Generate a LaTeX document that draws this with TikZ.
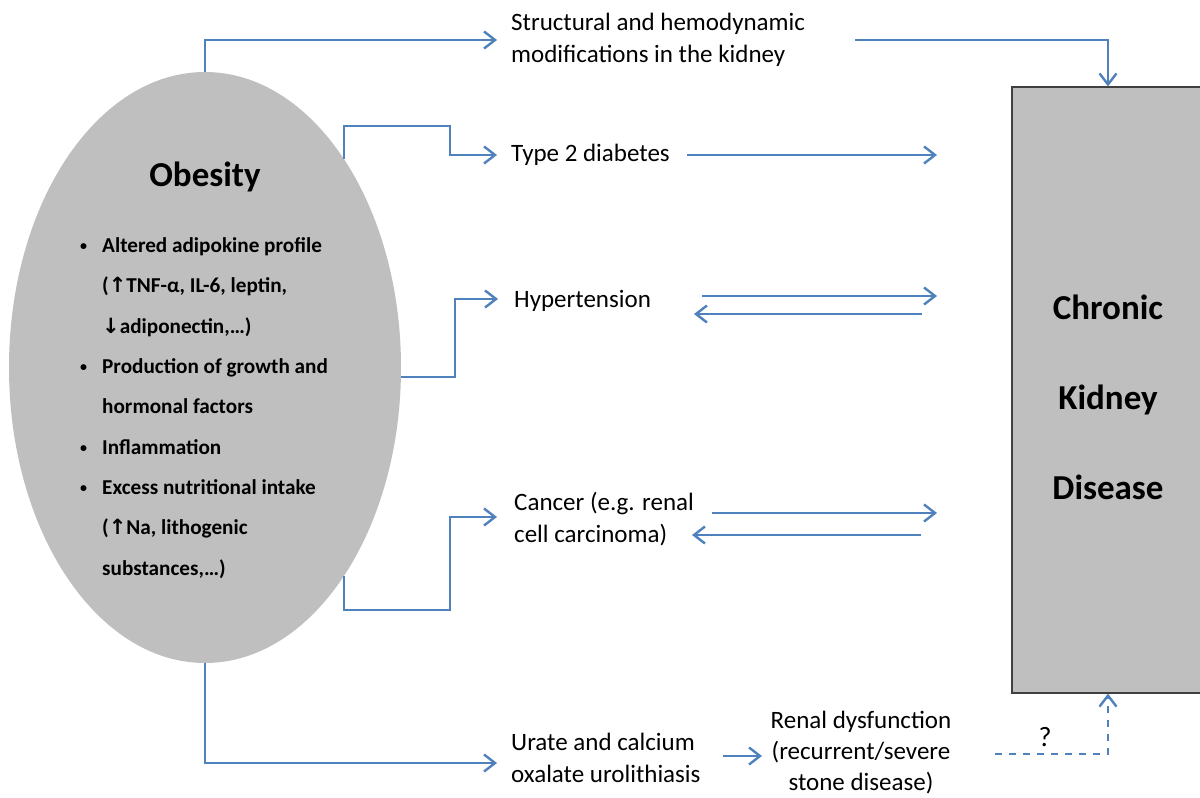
\documentclass[tikz,border=0pt]{standalone}
\usepackage{fontspec}
\setmainfont{Carlito}
\newfontfamily\dvfont{DejaVu Sans}
\usetikzlibrary{arrows.meta,shapes.geometric}
\definecolor{ablue}{HTML}{4F81BD}
\definecolor{agray}{HTML}{BFBFBF}
\newcommand{\bitem}{\makebox[22pt][l]{\fontsize{14}{14}\selectfont\raisebox{2pt}{•}}}
\newcommand{\bind}{\hspace*{22pt}}
\newcommand{\uparr}{{\dvfont\bfseries\fontsize{21}{21}\selectfont↑}}
\newcommand{\downarr}{{\dvfont\bfseries\fontsize{21}{21}\selectfont↓}}
\begin{document}
\begin{tikzpicture}[x=1pt,y=-1pt,
  conn/.style={draw=ablue,line width=2.4pt,-{Straight Barb[length=11pt,width=17pt]}},
  dconn/.style={conn,dash pattern=on 7pt off 7pt},
  lab/.style={font=\fontsize{25}{31.5}\selectfont,anchor=west,align=left,inner sep=0pt},
  bigbold/.style={font=\bfseries\fontsize{35}{90}\selectfont,align=center,inner sep=0pt},
  list/.style={font=\bfseries\fontsize{21.2}{40.3}\selectfont,anchor=west,align=left,inner sep=0pt}]
\useasboundingbox (0,0) rectangle (1200,798);
\fill[white] (0,0) rectangle (1200,798);

% main shapes
\node[ellipse,fill=agray,minimum width=392pt,minimum height=591pt,inner sep=0pt] (ob) at (205,367.5) {};
\node[bigbold] (obt) at (205,177) {Obesity};
\node[list] (oblist) at (80,408) {%
\bitem Altered adipokine profile\\
\bind(\uparr TNF-α, IL-6, leptin,\\
\bind\downarr adiponectin,…)\\
\bitem Production of growth and\\
\bind hormonal factors\\
\bitem Inflammation\\
\bitem Excess nutritional intake\\
\bind(\uparr Na, lithogenic\\
\bind substances,…)};

\node[draw=black!75,line width=1.2pt,fill=agray,minimum width=203pt,minimum height=606pt,inner sep=0pt] (ckd) at (1113.5,390) {};
\node[bigbold] (ckdt) at (1108,397) {Chronic\\Kidney\\Disease};

% labels
\node[lab] (struct) at (511,40) {Structural and hemodynamic\\modifications in the kidney};
\node[lab] (t2d) at (511,155) {Type 2 diabetes};
\node[lab] (hyp) at (514,301) {Hypertension};
\node[lab] (can) at (514,519) {Cancer (e.g. renal\\cell carcinoma)};
\node[lab] (uro) at (511,758) {Urate and calcium\\oxalate urolithiasis};
\node[lab,font=\fontsize{25}{31}\selectfont,anchor=center,align=center] (ren) at (861,753) {Renal dysfunction\\(recurrent/severe\\stone disease)};
\node[lab,font=\fontsize{28}{30}\selectfont,anchor=center] (q) at (1045,737) {?};

% coordinates
\coordinate (t2dstart) at (344,159);
\coordinate (hypstart) at (401,377);
\coordinate (canstart) at (344,576);
\coordinate (structout) at (855,40);
\coordinate (urorin) at (497,763);
\coordinate (ckdtop) at ([xshift=-5.5pt]ckd.north);
\coordinate (ckdbot) at ([xshift=-5.5pt]ckd.south);

% connectors
\draw[conn] (ob.north) |- ([xshift=-14pt]struct.west);
\draw[conn] (structout) -| (ckdtop);
\draw[conn] (t2dstart) -- (344,126) -- (450,126) -- (450,155) -- ([xshift=-14pt]t2d.west);
\draw[conn] (687,155) -- (937,155);
\draw[conn] (hypstart) -- (455,377) -- (455,299) -- ([xshift=-16pt,yshift=2pt]hyp.west);
\draw[conn] (702,296) -- (937,296);
\draw[conn] (922,314) -- (694,314);
\draw[conn] (canstart) -- (344,610) -- (450,610) -- (450,517) -- ([xshift=-17pt,yshift=2pt]can.west);
\draw[conn] (712,513) -- (937,513);
\draw[conn] (921,535) -- (692,535);
\draw[conn] (ob.south) |- (urorin);
\draw[conn] (723,756) -- (762,756);
\draw[dconn] (995,754) -| (ckdbot);
\end{tikzpicture}
\end{document}
